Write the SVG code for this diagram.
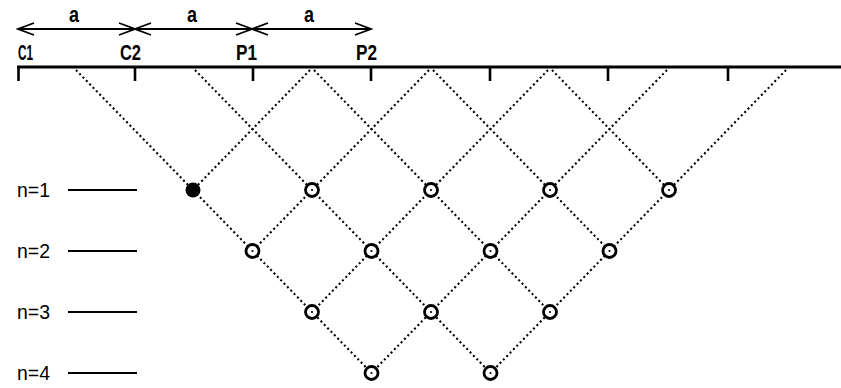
<svg xmlns="http://www.w3.org/2000/svg" width="841" height="388" viewBox="0 0 841 388">
<style>
text{font-family:"Liberation Sans",Arial,sans-serif;fill:#000}
.lbl{font-size:22px;font-weight:bold}
.a{font-size:22px;font-weight:bold}
.n{font-size:21px}
.dot{stroke:#000;stroke-width:2.1;stroke-dasharray:2 2.8;fill:none}
.open{fill:#fff;stroke:#000;stroke-width:2.8}
.axis{stroke:#000;fill:none}
</style>
<defs>
<marker id="ah" markerUnits="userSpaceOnUse" markerWidth="20" markerHeight="16" viewBox="-18 -8 20 16" refX="0" refY="0" orient="auto-start-reverse">
<path d="M-16,-6 L0,0 L-16,6" fill="none" stroke="#000" stroke-width="1.8"/>
</marker>
</defs>
<rect width="841" height="388" fill="#fff"/>
<g id="dimensions">
<line x1="18" y1="29" x2="135" y2="29" stroke="#000" stroke-width="1.8" marker-start="url(#ah)" marker-end="url(#ah)"/>
<line x1="135" y1="29" x2="252" y2="29" stroke="#000" stroke-width="1.8" marker-start="url(#ah)" marker-end="url(#ah)"/>
<line x1="252" y1="29" x2="371" y2="29" stroke="#000" stroke-width="1.8" marker-start="url(#ah)" marker-end="url(#ah)"/>
<text class="a" x="74" y="22" text-anchor="middle" textLength="10" lengthAdjust="spacingAndGlyphs">a</text>
<text class="a" x="192" y="22" text-anchor="middle" textLength="10" lengthAdjust="spacingAndGlyphs">a</text>
<text class="a" x="309" y="22" text-anchor="middle" textLength="10" lengthAdjust="spacingAndGlyphs">a</text>
<text class="lbl" x="18" y="60" textLength="15" lengthAdjust="spacingAndGlyphs">C1</text>
<text class="lbl" x="120" y="60" textLength="21" lengthAdjust="spacingAndGlyphs">C2</text>
<text class="lbl" x="236" y="60" textLength="21" lengthAdjust="spacingAndGlyphs">P1</text>
<text class="lbl" x="356" y="60" textLength="21" lengthAdjust="spacingAndGlyphs">P2</text>
</g>
<g id="axis">
<line class="axis" x1="17" y1="67" x2="841" y2="67" stroke-width="3"/>
<g stroke="#000" stroke-width="2.6">
<line x1="18.5" y1="67" x2="18.5" y2="81"/>
<line x1="135" y1="67" x2="135" y2="81"/>
<line x1="253" y1="67" x2="253" y2="81"/>
<line x1="371" y1="67" x2="371" y2="81"/>
<line x1="490" y1="67" x2="490" y2="81"/>
<line x1="608" y1="67" x2="608" y2="81"/>
<line x1="728" y1="67" x2="728" y2="81"/>
</g>
</g>
<g id="levels">
<text class="n" x="17" y="197" textLength="33" lengthAdjust="spacingAndGlyphs">n=1</text>
<text class="n" x="17" y="258" textLength="33" lengthAdjust="spacingAndGlyphs">n=2</text>
<text class="n" x="17" y="319" textLength="33" lengthAdjust="spacingAndGlyphs">n=3</text>
<text class="n" x="17" y="380" textLength="33" lengthAdjust="spacingAndGlyphs">n=4</text>
<g stroke="#000" stroke-width="2">
<line x1="68" y1="190" x2="137" y2="190"/>
<line x1="68" y1="251" x2="137" y2="251"/>
<line x1="68" y1="312" x2="137" y2="312"/>
<line x1="68" y1="373" x2="137" y2="373"/>
</g>
</g>
<g id="connectors">
<line class="dot" x1="76" y1="70" x2="371.5" y2="373"/>
<line class="dot" x1="195" y1="70" x2="490.5" y2="373"/>
<line class="dot" x1="314" y1="70" x2="550" y2="312"/>
<line class="dot" x1="433" y1="70" x2="609.5" y2="251"/>
<line class="dot" x1="552" y1="70" x2="669" y2="190"/>
<line class="dot" x1="786" y1="70" x2="490.5" y2="373"/>
<line class="dot" x1="667" y1="70" x2="371.5" y2="373"/>
<line class="dot" x1="548" y1="70" x2="312" y2="312"/>
<line class="dot" x1="429" y1="70" x2="252.5" y2="251"/>
<line class="dot" x1="310" y1="70" x2="193" y2="190"/>
</g>
<g id="node-1-1"><circle cx="193" cy="190" r="7.5" fill="#000"/></g>
<g id="node-1-2"><circle class="open" cx="312" cy="190" r="6.5"/><circle cx="312" cy="190" r="1.1" fill="#000"/></g>
<g id="node-1-3"><circle class="open" cx="431" cy="190" r="6.5"/><circle cx="431" cy="190" r="1.1" fill="#000"/></g>
<g id="node-1-4"><circle class="open" cx="550" cy="190" r="6.5"/><circle cx="550" cy="190" r="1.1" fill="#000"/></g>
<g id="node-1-5"><circle class="open" cx="669" cy="190" r="6.5"/><circle cx="669" cy="190" r="1.1" fill="#000"/></g>
<g id="node-2-1"><circle class="open" cx="252.5" cy="251" r="6.5"/><circle cx="252.5" cy="251" r="1.1" fill="#000"/></g>
<g id="node-2-2"><circle class="open" cx="371.5" cy="251" r="6.5"/><circle cx="371.5" cy="251" r="1.1" fill="#000"/></g>
<g id="node-2-3"><circle class="open" cx="490.5" cy="251" r="6.5"/><circle cx="490.5" cy="251" r="1.1" fill="#000"/></g>
<g id="node-2-4"><circle class="open" cx="609.5" cy="251" r="6.5"/><circle cx="609.5" cy="251" r="1.1" fill="#000"/></g>
<g id="node-3-1"><circle class="open" cx="312" cy="312" r="6.5"/><circle cx="312" cy="312" r="1.1" fill="#000"/></g>
<g id="node-3-2"><circle class="open" cx="431" cy="312" r="6.5"/><circle cx="431" cy="312" r="1.1" fill="#000"/></g>
<g id="node-3-3"><circle class="open" cx="550" cy="312" r="6.5"/><circle cx="550" cy="312" r="1.1" fill="#000"/></g>
<g id="node-4-1"><circle class="open" cx="371.5" cy="373" r="6.5"/><circle cx="371.5" cy="373" r="1.1" fill="#000"/></g>
<g id="node-4-2"><circle class="open" cx="490.5" cy="373" r="6.5"/><circle cx="490.5" cy="373" r="1.1" fill="#000"/></g>
</svg>
